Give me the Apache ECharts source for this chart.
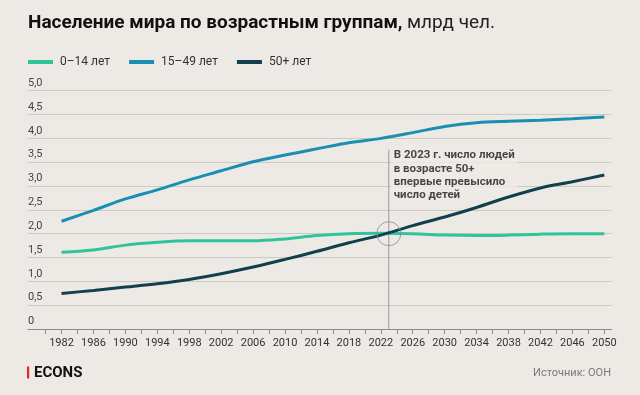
<!DOCTYPE html>
<html><head><meta charset="utf-8">
<script src="https://cdn.jsdelivr.net/npm/echarts@6/dist/echarts.min.js"></script>
<style>html,body{margin:0;padding:0;background:#edeae6;}#c{width:640px;height:395px;}</style>
</head><body><div id="c"></div>
<script>
var years = [1982,1986,1990,1994,1998,2002,2006,2010,2014,2018,2022,2026,2030,2034,2038,2042,2046,2050];
var age0_14 = [1.61,1.66,1.76,1.82,1.85,1.85,1.85,1.89,1.96,2.00,2.01,2.00,1.97,1.96,1.97,1.99,2.00,2.00];
var age15_49 = [2.26,2.49,2.73,2.92,3.13,3.32,3.51,3.65,3.78,3.91,4.00,4.12,4.25,4.33,4.36,4.38,4.41,4.45];
var age50plus = [0.745,0.81,0.88,0.95,1.04,1.16,1.30,1.46,1.63,1.81,1.97,2.17,2.35,2.55,2.77,2.96,3.09,3.23];
var seriesNames = ['0–14 лет','15–49 лет','50+ лет'];
var xTickValues = [];
for (var t = 1980; t <= 2050; t += 2) xTickValues.push(t);
var xLabelValues = [1982,1986,1990,1994,1998,2002,2006,2010,2014,2018,2022,2026,2030,2034,2038,2042,2046,2050];
var annotYear = 2023, annotValue = 2.0, annotTop = 3.76;
var annotText = 'В 2023 г. число людей\nв возрасте 50+\nвпервые превысило\nчисло детей';

function pairs(v){ return years.map(function(y,i){ return [y, v[i]]; }); }
var colors = ['#31c49c','#1a8fb3','#11404c'];
var bg = '#edeae6';
var chart = echarts.init(document.getElementById('c'), null, {renderer:'canvas'});
var ff = 'Roboto, "Noto Sans", sans-serif';
function lineSeries(name, data, color){
  return {name:name, type:'line', data:pairs(data), smooth:0.35, showSymbol:false, symbol:'none',
    lineStyle:{color:color, width:3}, itemStyle:{color:color}, z:3, silent:true};
}
chart.setOption({
  backgroundColor: bg,
  animation:false,
  textStyle:{fontFamily:ff},
  title:{
    left:28, top:11, padding:0,
    text:'{b|Население мира по возрастным группам,} {n|млрд чел.}',
    textStyle:{rich:{
      b:{fontFamily:ff, fontSize:19, fontWeight:'bold', color:'#111', lineHeight:24},
      n:{fontFamily:ff, fontSize:19, fontWeight:'normal', color:'#222', lineHeight:24}
    }}
  },
  legend:{
    left:28, top:56, padding:0, icon:'rect', itemWidth:25, itemHeight:4, itemGap:19,
    data:seriesNames,
    textStyle:{fontFamily:ff, fontSize:12, color:'#333', padding:[0,0,0,2]}
  },
  grid:{left:28, right:28.5, top:90.7, bottom:66, containLabel:false},
  xAxis:{
    type:'value', min:1977.8, max:2050.9,
    splitLine:{show:false},
    axisLine:{show:true, lineStyle:{color:'#8c8c8c', width:1.2}},
    axisTick:{show:true, customValues:xTickValues, length:5, lineStyle:{color:'#8c8c8c', width:1}},
    axisLabel:{customValues:xLabelValues, fontFamily:ff, fontSize:11, color:'#333', margin:9,
      formatter:function(v){return String(v);}}
  },
  yAxis:{
    type:'value', min:0, max:5, interval:0.5,
    axisLine:{show:false}, axisTick:{show:false},
    splitLine:{show:true, lineStyle:{color:'#cdcac5', width:1.2}},
    axisLabel:{inside:true, margin:0, verticalAlign:'bottom', padding:[0,0,2,0], fontFamily:ff, fontSize:11, color:'#444',
      formatter:function(v){ return v===0 ? '0' : v.toFixed(1).replace('.',','); }}
  },
  series:[
    {type:'line', data:[[annotYear,0],[annotYear,annotTop]], symbol:'none', silent:true,
      lineStyle:{color:'#9a9a9a', width:1}, z:1},
    lineSeries(seriesNames[0], age0_14, colors[0]),
    lineSeries(seriesNames[1], age15_49, colors[1]),
    lineSeries(seriesNames[2], age50plus, colors[2]),
    {type:'scatter', data:[[annotYear,annotValue]], symbol:'circle', symbolSize:24, silent:true, z:5,
      itemStyle:{color:'rgba(0,0,0,0)', borderColor:'#8a8a8a', borderWidth:1}},
    {type:'scatter', data:[[annotYear,annotTop]], symbolSize:0.1, silent:true, z:2,
      label:{show:true, position:[2,-3], align:'left', verticalAlign:'top', formatter:annotText,
        fontFamily:ff, fontSize:11.5, fontWeight:'bold', color:'#1a1a1a', lineHeight:13.3,
        backgroundColor:bg, padding:[2,3,0,3]}}
  ],
  graphic:[
    {type:'rect', left:27, top:366.5, shape:{width:2.2, height:12}, style:{fill:'#e3262d'}},
    {type:'text', left:34, top:366, style:{text:'ECONS', font:'bold 15px '+ff, fill:'#111'}},
    {type:'text', right:29, top:368, style:{text:'Источник: ООН', font:'11px '+ff, fill:'#7a7a7a'}}
  ]
});
</script></body></html>
